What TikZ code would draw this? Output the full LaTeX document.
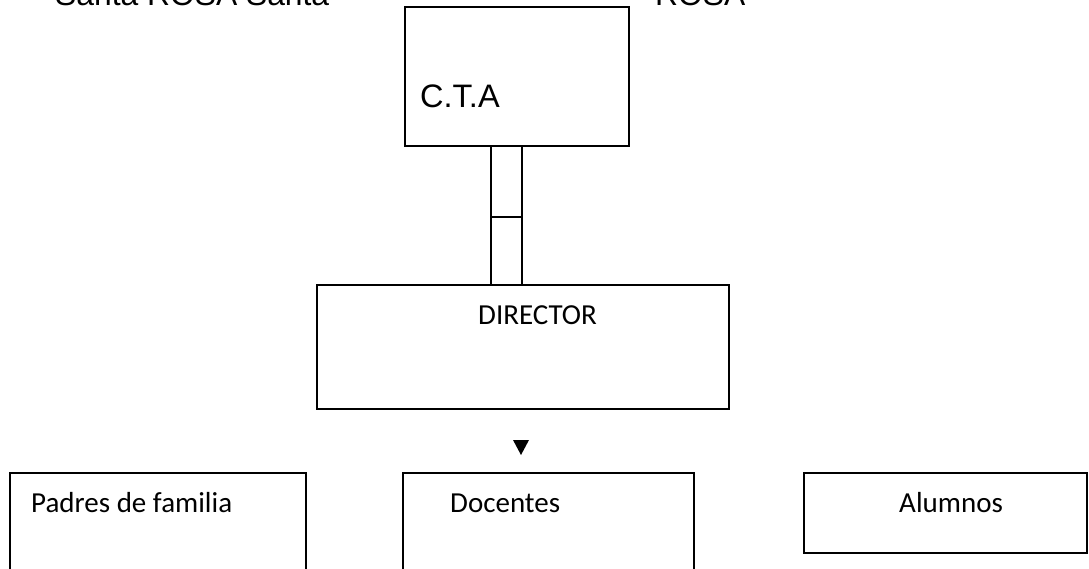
\documentclass[tikz,border=0pt]{standalone}
\usepackage{fontspec}
\setmainfont{Liberation Sans}
\newfontfamily\calibrifont{Carlito}
\begin{document}
\begin{tikzpicture}[x=1pt,y=-1pt,
  box/.style={draw=black,line width=2.2pt,inner sep=0pt,outer sep=0pt,fill=none},
  arialtxt/.style={inner sep=0pt,anchor=base west,font=\fontsize{31.8}{36}\selectfont},
  calitxt/.style={inner sep=0pt,anchor=base west,font=\calibrifont\fontsize{29}{34}\selectfont}]
\useasboundingbox (0,0) rectangle (1089,568);
\clip (0,0) rectangle (1089,568);
% boxes
\node[box,minimum width=224pt,minimum height=139pt] (cta) at (517,76.5) {};
\node[box,minimum width=412pt,minimum height=124pt] (dir) at (523,347) {};
\node[box,minimum width=31pt,minimum height=139pt] (link) at (506.5,215.5) {};
\draw[line width=2.2pt] (link.west |- 0,217) -- (link.east |- 0,217);
\node[box,minimum width=296pt,minimum height=127pt] (padres) at (158,536.5) {};
\node[box,minimum width=291pt,minimum height=127pt] (docentes) at (548.5,536.5) {};
\node[box,minimum width=283pt,minimum height=80pt] (alumnos) at (945.5,513) {};
% texts
\node[arialtxt] (t1) at (55,5) {Santa ROSA Santa};
\node[arialtxt] (t2) at (655,5) {ROSA};
\node[arialtxt,font=\fontsize{32.5}{36}\selectfont] (ctatxt) at (420,107) {C.T.A};
\node[calitxt] (dirtxt) at (478,324) {DIRECTOR};
\node[calitxt] (padtxt) at (31,512) {Padres de familia};
\node[calitxt] (doctxt) at (450,512) {Docentes};
\node[calitxt] (alutxt) at (899,512) {Alumnos};
% arrow head
\coordinate (tip) at (521,455);
\fill[black] (tip) -- ++(-8,-15) -- ++(16,0) -- cycle;
\end{tikzpicture}
\end{document}
